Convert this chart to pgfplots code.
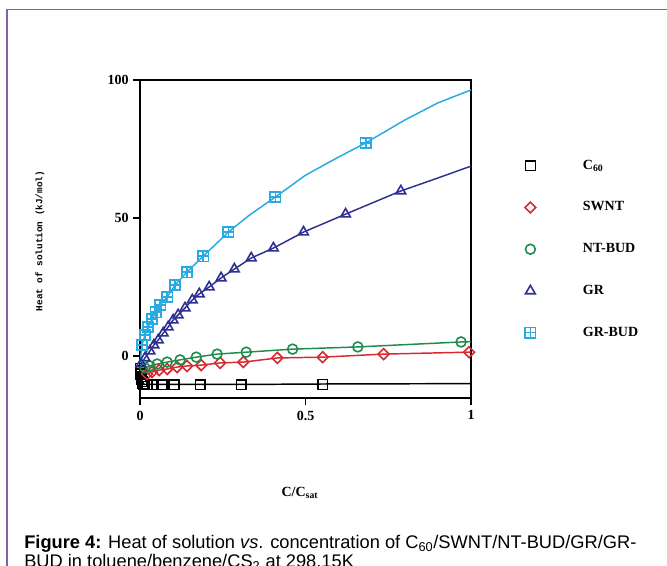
\documentclass[border=0pt]{standalone}
\usepackage{fontspec}
\setmainfont{Liberation Serif}
\newfontfamily\capfont{Liberation Sans}
\newfontfamily\monofont{Liberation Mono}
\usepackage{pgfplots}
\pgfplotsset{compat=1.18}
\definecolor{cred}{HTML}{D52B30}
\definecolor{cgreen}{HTML}{1F8B4C}
\definecolor{cdblue}{HTML}{2E3192}
\definecolor{clblue}{HTML}{29ABE2}
\definecolor{cframe}{HTML}{8064A2}
\pgfdeclareplotmark{boxgrid}{%
  \pgfpathrectangle{\pgfpoint{-\pgfplotmarksize}{-\pgfplotmarksize}}{\pgfpoint{2\pgfplotmarksize}{2\pgfplotmarksize}}%
  \pgfpathmoveto{\pgfpoint{-\pgfplotmarksize}{0pt}}\pgfpathlineto{\pgfpoint{\pgfplotmarksize}{0pt}}%
  \pgfpathmoveto{\pgfpoint{0pt}{-\pgfplotmarksize}}\pgfpathlineto{\pgfpoint{0pt}{\pgfplotmarksize}}%
  \pgfusepathqstroke}
\pgfplotsset{wideleg/.style={legend image code/.code={\path[draw=none,fill=none] (0cm,0cm) -- (2.55cm,0cm); \draw[##1] plot coordinates {(1.27cm,0cm)};}}}
\begin{document}
\begin{tikzpicture}
\path[use as bounding box] (0,0) rectangle (500.25pt,424.5pt);
\clip (0,0) rectangle (500.25pt,424.5pt);
\draw[cframe, line width=1.1pt] (5.25pt,-2pt) -- (5.25pt,417.4pt) -- (503pt,417.4pt);
\begin{axis}[
  at={(105pt,126pt)}, anchor=south west,
  scale only axis, width=248.25pt, height=238.5pt,
  xmin=0, xmax=1, ymin=-15.2, ymax=100,
  xtick={0,0.5,1}, xticklabels={0,0.5,1},
  ytick={0,50,100}, yticklabels={0,50,100},
  xtick pos=bottom, ytick pos=left, tick align=outside,
  major tick length=5pt,
  tick style={black, line width=0.9pt},
  axis line style={line width=1.3pt},
  ticklabel style={font=\fontsize{10.5}{12}\selectfont\bfseries},
  xticklabel style={yshift=-1pt},
  clip=false,
  legend style={draw=none, fill=none, at={(1.033,0.75)}, anchor=north west,
    inner sep=0pt, row sep=22.3pt, font=\fontsize{10.5}{12}\selectfont\bfseries,
    nodes={inner xsep=3pt, inner ysep=0pt, text height=7pt, text depth=2pt}},
  legend cell align=left,
  wideleg,
  every axis plot/.append style={line width=1.1pt},
  mark size=3.7pt,
]
% lines
\addplot[black, forget plot] coordinates {(0,-4) (0.005,-8.5) (0.012,-10.3) (0.3,-10.3) (0.6,-10.1) (1,-10.0)};
\addplot[cred, forget plot] coordinates {(0,-8) (0.021,-6.5) (0.036,-5.8) (0.058,-5.1) (0.082,-4.7) (0.112,-4.0) (0.142,-3.6) (0.185,-3.3) (0.242,-2.5) (0.312,-2.2) (0.415,-0.7) (0.552,-0.4) (0.736,0.7) (0.994,1.4) (1,1.4)};
\addplot[cgreen, forget plot] coordinates {(0,-6) (0.015,-4.3) (0.030,-3.6) (0.052,-2.9) (0.082,-2.2) (0.121,-1.4) (0.170,-0.4) (0.233,0.7) (0.321,1.4) (0.461,2.5) (0.658,3.3) (0.970,5.1) (1,5.2)};
\addplot[cdblue, forget plot] coordinates {(0,-4) (0.003,-2.9) (0.015,-0.7) (0.030,1.8) (0.042,4.0) (0.055,5.8) (0.070,8.3) (0.085,10.5) (0.100,13.0) (0.115,14.9) (0.136,17.4) (0.158,20.3) (0.179,22.5) (0.209,25.0) (0.245,28.3) (0.285,31.5) (0.336,35.5) (0.403,39.1) (0.494,44.9) (0.621,51.4) (0.788,59.8) (0.9,64.5) (1,68.8)};
\addplot[clblue, forget plot] coordinates {(0,-3) (0.006,4.0) (0.015,7.6) (0.024,10.5) (0.036,13.4) (0.048,15.9) (0.061,18.5) (0.082,21.4) (0.106,25.7) (0.142,30.4) (0.191,36.2) (0.267,44.9) (0.33,51) (0.409,57.6) (0.5,65.5) (0.6,72.1) (0.682,77.2) (0.8,85.5) (0.9,91.7) (1.0,96.4)};
% marks
\addplot[black, only marks, mark=square, mark options={line width=1.2pt}]
  coordinates {(0.552,-10.3) (0.306,-10.4) (0.182,-10.4) (0.103,-10.4) (0.067,-10.4) (0.039,-10.4) (0.021,-10.3) (0.012,-10.3) (0.009,-10.0) (0.007,-9.3) (0.005,-8.5) (0.004,-7.5) (0.003,-6.5) (0.002,-5.5) (0.001,-4.5)};
\addlegendentry{C\textsubscript{60}}
\addplot[cred, only marks, mark=square, mark size=2.9pt, mark options={rotate=45, line width=1.2pt}]
  coordinates {(0.994,1.4) (0.736,0.7) (0.552,-0.4) (0.415,-0.7) (0.312,-2.2) (0.242,-2.5) (0.185,-3.3) (0.142,-3.6) (0.112,-4.0) (0.082,-4.7) (0.058,-5.1) (0.036,-5.8) (0.021,-6.5)};
\addlegendentry{SWNT}
\addplot[cgreen, only marks, mark=o, mark options={line width=1.2pt}]
  coordinates {(0.970,5.1) (0.658,3.3) (0.461,2.5) (0.321,1.4) (0.233,0.7) (0.170,-0.4) (0.121,-1.4) (0.082,-2.2) (0.052,-2.9) (0.030,-3.6) (0.015,-4.3)};
\addlegendentry{NT-BUD}
\addplot[cdblue, only marks, mark=triangle, mark size=4.2pt, mark options={line width=1.2pt}]
  coordinates {(0.788,59.8) (0.621,51.4) (0.494,44.9) (0.403,39.1) (0.336,35.5) (0.285,31.5) (0.245,28.3) (0.209,25.0) (0.179,22.5) (0.158,20.3) (0.136,17.4) (0.115,14.9) (0.100,13.0) (0.085,10.5) (0.070,8.3) (0.055,5.8) (0.042,4.0) (0.030,1.8) (0.015,-0.7) (0.003,-2.9)};
\addlegendentry{GR}
\addplot[clblue, only marks, mark=boxgrid, mark size=3.9pt, mark options={line width=1.2pt}]
  coordinates {(0.682,77.2) (0.409,57.6) (0.267,44.9) (0.191,36.2) (0.142,30.4) (0.106,25.7) (0.082,21.4) (0.061,18.5) (0.048,15.9) (0.036,13.4) (0.024,10.5) (0.015,7.6) (0.006,4.0)};
\addlegendentry{GR-BUD}
\end{axis}
\node[font=\fontsize{10.5}{12}\selectfont\bfseries] at (225pt,54.75pt) {C/C\textsubscript{sat}};
\node[rotate=90, font=\monofont\fontsize{7}{9}\selectfont\bfseries] at (30pt,243.75pt) {Heat of solution (kJ/mol)};
\node[anchor=base west, inner sep=0pt, font=\capfont\fontsize{13.7}{16}\selectfont] at (18pt,12.75pt) {\textbf{Figure 4:} Heat of solution \textit{vs}. concentration of C\textsubscript{60}/SWNT/NT-BUD/GR/GR-};
\node[anchor=base west, inner sep=0pt, font=\capfont\fontsize{13.7}{16}\selectfont] at (18pt,-1.5pt) {BUD in toluene/benzene/CS\textsubscript{2} at 298.15K};
\end{tikzpicture}
\end{document}
